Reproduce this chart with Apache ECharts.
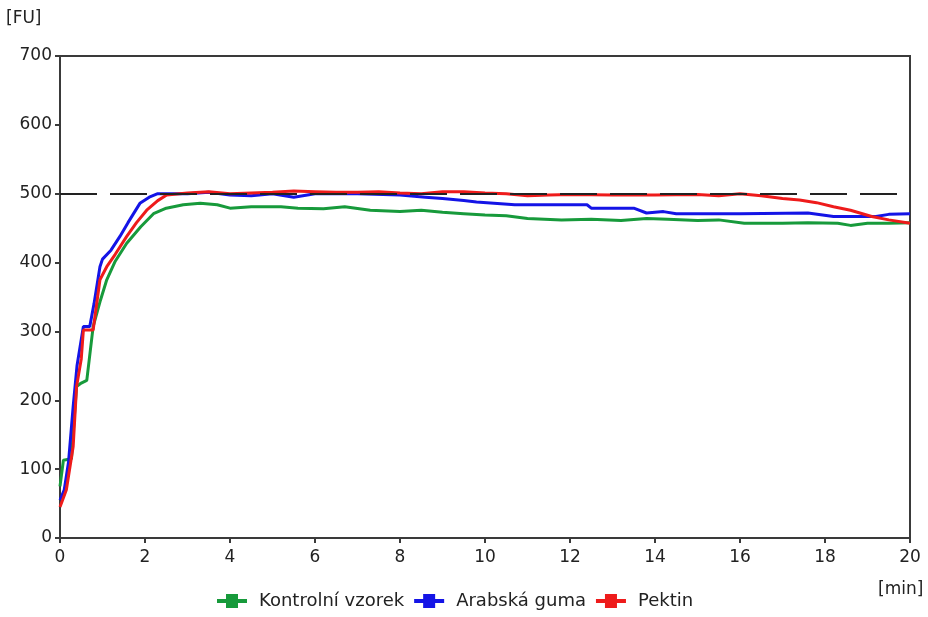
<!DOCTYPE html>
<html>
<head>
    <meta charset="utf-8">
    <title>FU</title>
    <script src="https://cdn.jsdelivr.net/npm/echarts@6/dist/echarts.min.js"></script>
    <style>
        html, body { margin: 0; padding: 0; background: #fff; }
        #main { width: 928px; height: 617px; }
    </style>
</head>
<body>
<div id="main"></div>
<script>
    // data: time [min] and consistency [FU]
    var kontrolT = [0, 0.08, 0.27, 0.33, 0.39, 0.5, 0.63, 0.78, 0.95, 1.1, 1.3, 1.57, 1.9, 2.2, 2.5, 2.9, 3.3, 3.7, 4.0, 4.5, 5.2, 5.6, 6.2, 6.7, 7.3, 8.0, 8.5, 9.0, 9.5, 10, 10.5, 11, 11.8, 12.5, 13.2, 13.8, 14.3, 15.0, 15.5, 16.1, 17, 17.6, 18.3, 18.6, 19.0, 19.5, 20];
    var kontrolV = [75, 113, 115, 170, 220, 225, 229, 307, 345, 375, 402, 428, 452, 471, 479, 484, 486, 484, 479, 481, 481, 479, 478, 481, 476, 474, 476, 473, 471, 469, 468, 464, 462, 463, 461, 464, 463, 461, 462, 457, 457, 458, 457, 454, 457, 457, 458];

    var gumaT = [0, 0.1, 0.2, 0.31, 0.4, 0.55, 0.7, 0.8, 0.94, 1.0, 1.2, 1.41, 1.6, 1.88, 2.1, 2.3, 3, 3.5, 4, 4.5, 5, 5.5, 6, 7, 8, 8.6, 9, 9.5, 9.8, 10.7, 11.5, 12.4, 12.5, 13.5, 13.8, 14.2, 14.5, 16, 17.6, 18.2, 19.2, 19.5, 20];
    var gumaV = [55, 70, 110, 191, 250, 307, 307, 340, 394, 405, 418, 438, 458, 486, 495, 500, 500, 502, 498, 497, 500, 495, 500, 500, 498, 495, 493, 490, 488, 484, 484, 484, 479, 479, 472, 474, 471, 471, 472, 467, 467, 470, 471];

    var pektinT = [0, 0.15, 0.31, 0.39, 0.5, 0.55, 0.78, 0.94, 1.1, 1.3, 1.57, 1.8, 2.04, 2.3, 2.51, 3, 3.5, 4, 4.5, 5, 5.5, 6, 6.5, 7, 7.5, 8, 8.5, 9, 9.5, 10, 10.5, 11, 11.5, 12, 13, 14, 15, 15.5, 16, 16.5, 17, 17.4, 17.8, 18.2, 18.6, 19.1, 19.5, 20];
    var pektinV = [45, 70, 133, 220, 260, 302, 302, 375, 394, 412, 438, 458, 476, 490, 498, 501, 503, 500, 501, 502, 504, 503, 502, 502, 503, 501, 500, 503, 503, 501, 500, 497, 498, 499, 498, 498, 499, 497, 500, 497, 493, 491, 487, 481, 476, 467, 462, 457];

    var names = ['Kontrolní vzorek', 'Arabská guma', 'Pektin'];
    var colors = ['#179a3b', '#1414e6', '#ee1b1b'];
    var refLevel = 500;

    function pairs(t, v) {
        var out = [];
        for (var i = 0; i < t.length; i++) out.push([t[i], v[i]]);
        return out;
    }

    function curve(i, t, v) {
        return {
            name: names[i], type: 'line', z: 3, showSymbol: false,
            itemStyle: { color: colors[i] },
            lineStyle: { width: 3, color: colors[i] },
            data: pairs(t, v)
        };
    }

    var icon = 'path://M0,5 L9,5 L9,0 L21,0 L21,5 L30,5 L30,9 L21,9 L21,14 L9,14 L9,9 L0,9 Z';
    var font = 'Tahoma, "DejaVu Sans", sans-serif';

    var myChart = echarts.init(document.getElementById('main'));
    var option = {
        animation: false,
        backgroundColor: '#fff',
        textStyle: { fontFamily: font },
        grid: {
            left: 60, right: 18, top: 56, bottom: 79,
            show: true, borderColor: '#3a3a3a', borderWidth: 2, backgroundColor: '#fff'
        },
        legend: {
            bottom: 2,
            left: 212,
            itemWidth: 30,
            itemHeight: 14,
            itemGap: 10,
            icon: icon,
            textStyle: { fontSize: 18, color: '#222', fontFamily: font, padding: [0, 0, 0, 7] },
            data: names
        },
        graphic: [
            { type: 'text', left: 6, top: 10, style: { text: '[FU]', fontSize: 17, fill: '#222', fontFamily: font } },
            { type: 'text', left: 878, top: 581, style: { text: '[min]', fontSize: 17, fill: '#222', fontFamily: font } }
        ],
        xAxis: {
            type: 'value',
            min: 0, max: 20, interval: 2,
            axisLine: { show: true, lineStyle: { color: '#3a3a3a', width: 2 } },
            axisTick: { show: true, length: 5, lineStyle: { color: '#3a3a3a', width: 2 } },
            axisLabel: { fontSize: 17, color: '#222', margin: 11 },
            splitLine: { show: false }
        },
        yAxis: {
            type: 'value',
            min: 0, max: 700, interval: 100,
            axisLine: { show: true, lineStyle: { color: '#3a3a3a', width: 2 } },
            axisTick: { show: true, length: 5, lineStyle: { color: '#3a3a3a', width: 2 } },
            axisLabel: { fontSize: 17, color: '#222', margin: 8 },
            splitLine: { show: false }
        },
        series: [
            {
                // reference level, drawn under the curves
                name: 'ref', type: 'line', z: 1, data: [],
                markLine: {
                    silent: true, symbol: 'none', label: { show: false },
                    lineStyle: { color: '#222', width: 2, type: [37, 13] },
                    data: [{ yAxis: refLevel }]
                }
            },
            curve(0, kontrolT, kontrolV),
            curve(1, gumaT, gumaV),
            curve(2, pektinT, pektinV)
        ]
    };
    myChart.setOption(option);
</script>
</body>
</html>
